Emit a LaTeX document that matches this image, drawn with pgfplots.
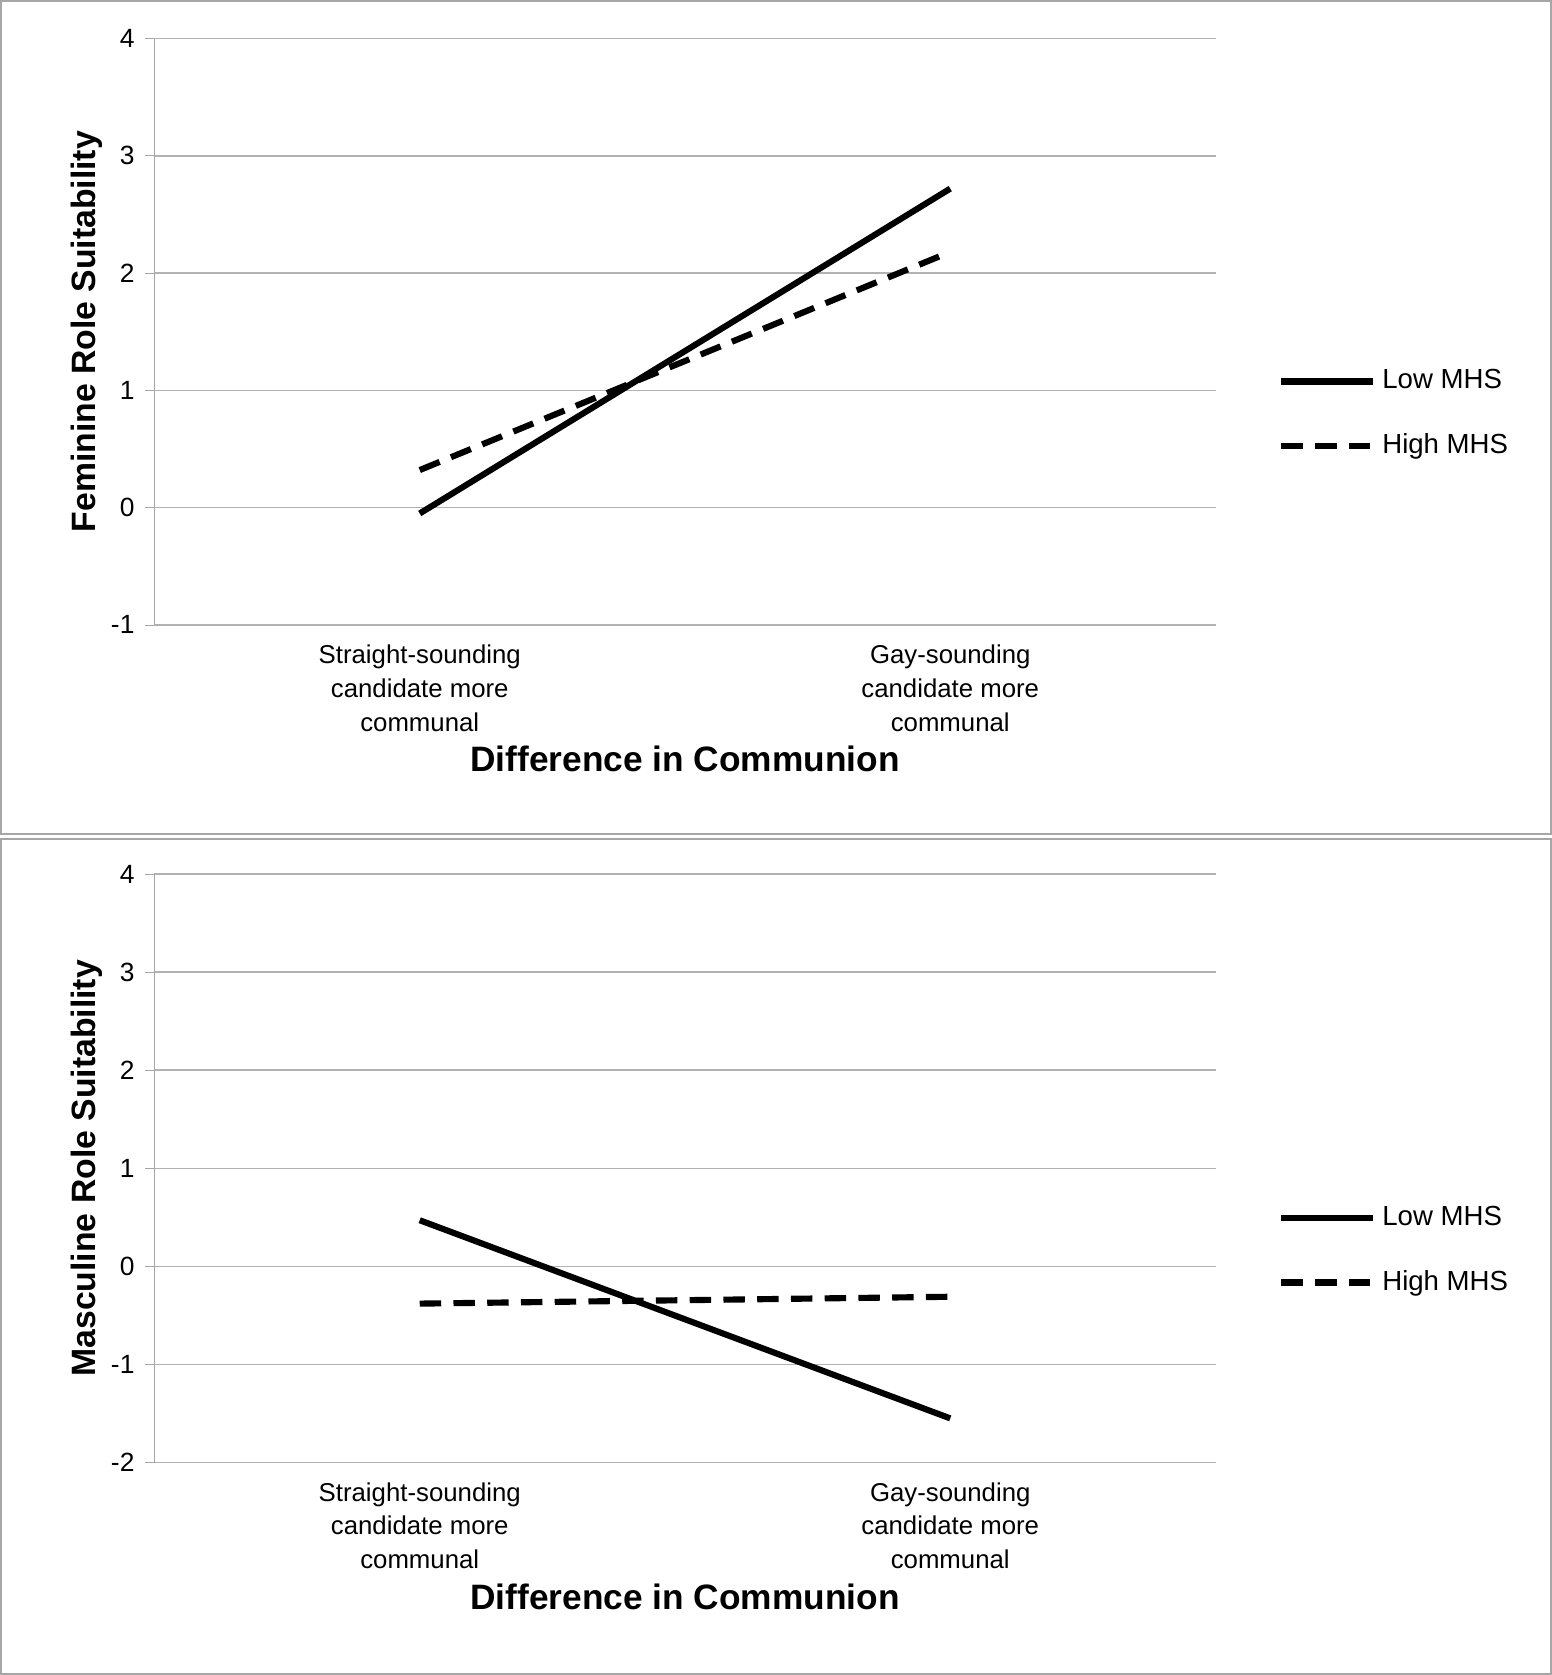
\documentclass[border=0pt]{standalone}
\usepackage{pgfplots}
\pgfplotsset{compat=1.18}
\usepackage{fontspec}
\setmainfont{Liberation Sans}
\begin{document}
\begin{tikzpicture}[x=0.35pt,y=-0.35pt]
\draw[gray!70,line width=0.6pt] (2,2) rectangle (1445,778);
\draw[gray!70,line width=0.6pt] (2,782) rectangle (1445,1560);
\pgfplotsset{every axis/.style={},
 myax/.style={scale only axis, width=345.8pt, xmin=0,xmax=1,
 axis x line*=bottom, axis y line*=left,
 axis line style={gray!70}, x axis line style={draw=none},
 ymajorgrids, grid style={gray!60,line width=0.5pt},
 xtick={0.25,0.75}, xticklabels={{Straight-sounding\\candidate more\\communal},{Gay-sounding\\candidate more\\communal}},
 xticklabel style={align=center,font=\fontsize{8.4}{11}\selectfont},
 major x tick style={draw=none},
 yticklabel style={font=\fontsize{8.6}{10}\selectfont},
 /pgf/number format/assume math mode=true,
 ytick style={gray!70}, tick align=outside, major tick length=3pt,
 xlabel={\bfseries Difference in Communion}, xlabel style={font=\fontsize{11.5}{13}\selectfont, yshift=2pt},
 ylabel style={font=\fontsize{11}{13}\selectfont\bfseries, yshift=-4pt},
 legend style={draw=none, at={(1.05,0.36)}, anchor=west, font=\fontsize{9}{10}\selectfont, row sep=9pt, fill=none},
 legend cell align=left,
 legend image code/.code={\draw[#1] (0cm,0cm) -- (1.05cm,0cm);},
 clip=false}}
\begin{axis}[myax, at={(50.75pt,-204.05pt)}, height=191.1pt, ymin=-1, ymax=4, ytick={-1,0,...,4},
 ylabel={Feminine Role Suitability}]
\addplot[black, line width=2pt] coordinates {(0.25,-0.05) (0.75,2.72)};
\addplot[black, line width=2pt, dash pattern=on 7pt off 4pt] coordinates {(0.25,0.32) (0.75,2.18)};
\legend{Low MHS, High MHS}
\end{axis}
\begin{axis}[myax, at={(50.75pt,-477.05pt)}, height=191.8pt, ymin=-2, ymax=4, ytick={-2,-1,...,4},
 ylabel={Masculine Role Suitability}]
\addplot[black, line width=2pt] coordinates {(0.25,0.47) (0.75,-1.55)};
\addplot[black, line width=2pt, dash pattern=on 7pt off 4pt] coordinates {(0.25,-0.38) (0.75,-0.31)};
\legend{Low MHS, High MHS}
\end{axis}
\end{tikzpicture}
\end{document}
